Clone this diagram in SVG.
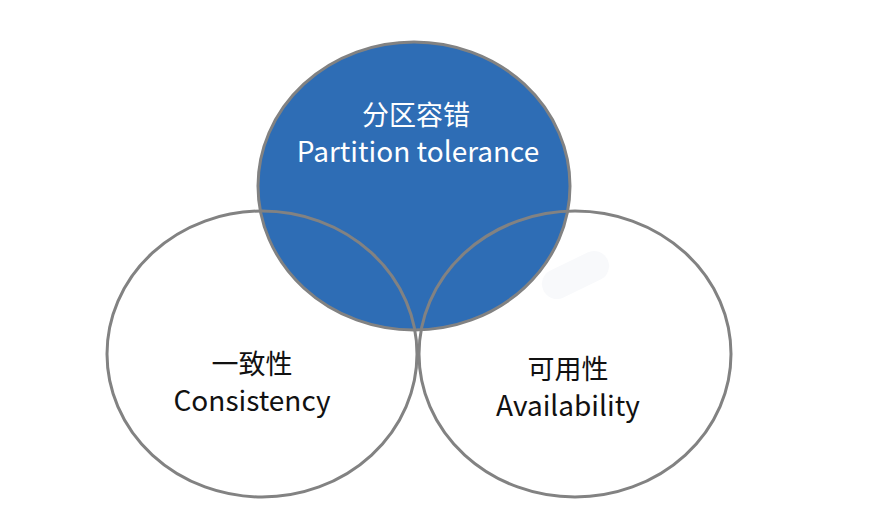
<svg xmlns="http://www.w3.org/2000/svg" width="873" height="532" viewBox="0 0 873 532">
  <style>
    .ring { stroke: #828282; stroke-width: 3; }
    .lbl { font-family: "Noto Sans CJK SC", "Noto Sans", "Liberation Sans", sans-serif; text-anchor: middle; }
    .cjk { font-size: 27px; }
    .lat { font-size: 28px; }
    .light { fill: #ffffff; }
    .dark { fill: #111111; }
  </style>
  <rect width="873" height="532" fill="#ffffff"/>
  <g id="smudge">
    <line x1="557" y1="284" x2="594" y2="266" stroke="#f8f9fb" stroke-width="30" stroke-linecap="round"/>
  </g>
  <g id="partition">
    <ellipse cx="414" cy="186" rx="156" ry="144" fill="#2e6db5" class="ring"/>
    <text class="lbl cjk light" x="416" y="125">分区容错</text>
    <text class="lbl lat light" x="418" y="162">Partition tolerance</text>
  </g>
  <g id="consistency">
    <ellipse cx="262" cy="354" rx="155" ry="143" fill="none" class="ring"/>
    <text class="lbl cjk dark" x="252" y="374">一致性</text>
    <text class="lbl lat dark" x="252" y="411">Consistency</text>
  </g>
  <g id="availability">
    <ellipse cx="575" cy="354" rx="156" ry="143" fill="none" class="ring"/>
    <text class="lbl cjk dark" x="568" y="379">可用性</text>
    <text class="lbl lat dark" x="568" y="416">Availability</text>
  </g>
</svg>
